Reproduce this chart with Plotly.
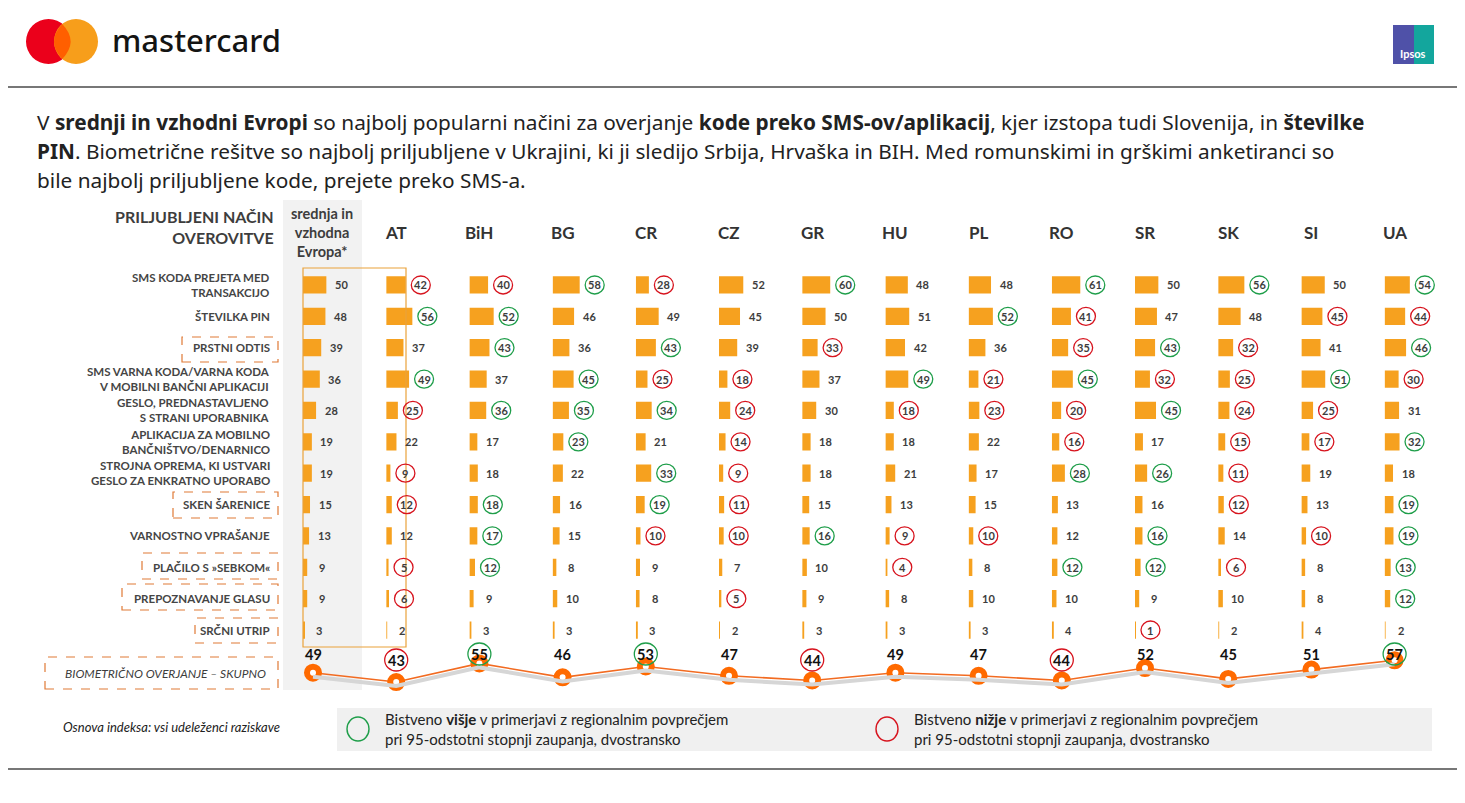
import plotly.graph_objects as go

W, H = 1465, 803
OFF = 8  # the page body adds an 8px margin around the figure
FIG_W, FIG_H = W - OFF, H - OFF

# row labels (top to bottom)
rows = [
    "SMS KODA PREJETA MED<br>TRANSAKCIJO",
    "ŠTEVILKA PIN",
    "PRSTNI ODTIS",
    "SMS VARNA KODA/VARNA KODA<br>V MOBILNI BANČNI APLIKACIJI",
    "GESLO, PREDNASTAVLJENO<br>S STRANI UPORABNIKA",
    "APLIKACIJA ZA MOBILNO<br>BANČNIŠTVO/DENARNICO",
    "STROJNA OPREMA, KI USTVARI<br>GESLO ZA ENKRATNO UPORABO",
    "SKEN ŠARENICE",
    "VARNOSTNO VPRAŠANJE",
    "PLAČILO S »SEBKOM«",
    "PREPOZNAVANJE GLASU",
    "SRČNI UTRIP",
]

countries = ["CEE", "AT", "BiH", "BG", "CR", "CZ", "GR", "HU", "PL", "RO", "SR", "SK", "SI", "UA"]

# values per column, significance: 1 = higher (green), -1 = lower (red)
cee = [50, 48, 39, 36, 28, 19, 19, 15, 13, 9, 9, 3]
at = [42, 56, 37, 49, 25, 22, 9, 12, 12, 5, 6, 2]
at_sig = [-1, 1, 0, 1, -1, 0, -1, -1, 0, -1, -1, 0]
bih = [40, 52, 43, 37, 36, 17, 18, 18, 17, 12, 9, 3]
bih_sig = [-1, 1, 1, 0, 1, 0, 0, 1, 1, 1, 0, 0]
bg = [58, 46, 36, 45, 35, 23, 22, 16, 15, 8, 10, 3]
bg_sig = [1, 0, 0, 1, 1, 1, 0, 0, 0, 0, 0, 0]
cr = [28, 49, 43, 25, 34, 21, 33, 19, 10, 9, 8, 3]
cr_sig = [-1, 0, 1, -1, 1, 0, 1, 1, -1, 0, 0, 0]
cz = [52, 45, 39, 18, 24, 14, 9, 11, 10, 7, 5, 2]
cz_sig = [0, 0, 0, -1, -1, -1, -1, -1, -1, 0, -1, 0]
gr = [60, 50, 33, 37, 30, 18, 18, 15, 16, 10, 9, 3]
gr_sig = [1, 0, -1, 0, 0, 0, 0, 0, 1, 0, 0, 0]
hu = [48, 51, 42, 49, 18, 18, 21, 13, 9, 4, 8, 3]
hu_sig = [0, 0, 0, 1, -1, 0, 0, 0, -1, -1, 0, 0]
pl = [48, 52, 36, 21, 23, 22, 17, 15, 10, 8, 10, 3]
pl_sig = [0, 1, 0, -1, -1, 0, 0, 0, -1, 0, 0, 0]
ro = [61, 41, 35, 45, 20, 16, 28, 13, 12, 12, 10, 4]
ro_sig = [1, -1, -1, 1, -1, -1, 1, 0, 0, 1, 0, 0]
sr = [50, 47, 43, 32, 45, 17, 26, 16, 16, 12, 9, 1]
sr_sig = [0, 0, 1, -1, 1, 0, 1, 0, 1, 1, 0, -1]
sk = [56, 48, 32, 25, 24, 15, 11, 12, 14, 6, 10, 2]
sk_sig = [1, 0, -1, -1, -1, -1, -1, -1, 0, -1, 0, 0]
si = [50, 45, 41, 51, 25, 17, 19, 13, 10, 8, 8, 4]
si_sig = [0, -1, 0, 1, -1, -1, 0, 0, -1, 0, 0, 0]
ua = [54, 44, 46, 30, 31, 32, 18, 19, 19, 13, 12, 2]
ua_sig = [1, -1, 1, -1, 0, 1, 0, 1, 1, 1, 1, 0]

# biometric total (line)
biometric = [49, 43, 55, 46, 53, 47, 44, 49, 47, 44, 52, 45, 51, 57]
bio_sig = [0, -1, 1, 0, 1, 0, -1, 0, 0, -1, 0, 0, 0, 1]

col_vals = [cee, at, bih, bg, cr, cz, gr, hu, pl, ro, sr, sk, si, ua]
col_sig = [[0] * 12, at_sig, bih_sig, bg_sig, cr_sig, cz_sig, gr_sig, hu_sig,
           pl_sig, ro_sig, sr_sig, sk_sig, si_sig, ua_sig]

ORANGE = "#f6a11f"
LINE_OR = "#f26b21"
MARK_OR = "#ff6a00"
GREEN = "#1f9e4a"
RED = "#d7141e"
DARK = "#3d3d3d"
FONT = "Lato, 'Noto Sans', sans-serif"
TITLE_FONT = "'Noto Sans', sans-serif"

COL0, COL_STEP = 313, 83.2
PX_PER_UNIT = 0.467
ROW_TOP, ROW_BOTTOM = 269.3, 645.7


def fx(x):
    return (x - OFF) / FIG_W


def fy(y):
    return 1 - (y - OFF) / FIG_H


def xname(i):
    return "x" if i == 0 else f"x{i + 1}"


fig = go.Figure()
shapes = []
annotations = []
layout_axes = {}

# grey band behind regional average + orange frame
shapes.append(dict(type="rect", xref="paper", yref="paper", x0=fx(283), x1=fx(362),
                   y0=fy(690), y1=fy(200), fillcolor="#f2f2f2", line_width=0, layer="below"))
shapes.append(dict(type="rect", xref="paper", yref="paper", x0=fx(303), x1=fx(406),
                   y0=fy(647), y1=fy(268), line=dict(color="#e9a23b", width=1.2)))

# bar columns
for i, (vals, sig) in enumerate(zip(col_vals, col_sig)):
    left = COL0 + i * COL_STEP - 10
    ax = "xaxis" if i == 0 else f"xaxis{i + 1}"
    layout_axes[ax] = dict(domain=[fx(left), fx(left + 70)], range=[0, 70 / PX_PER_UNIT],
                           anchor="y", visible=False, fixedrange=True)
    fig.add_trace(go.Bar(x=vals, y=list(range(len(rows))), orientation="h",
                         xaxis=xname(i), yaxis="y", width=0.55,
                         marker=dict(color=ORANGE, line_width=0), hoverinfo="x"))
    for r, (v, s) in enumerate(zip(vals, sig)):
        annotations.append(dict(xref=xname(i), yref="y", x=v, y=r, xshift=15, text=str(v),
                                showarrow=False, xanchor="center", yanchor="middle",
                                font=dict(family=FONT, size=11, color=DARK, weight="bold")))
        if s != 0:
            shapes.append(dict(type="circle", xref=xname(i), yref="y", xsizemode="pixel",
                               ysizemode="pixel", xanchor=v, yanchor=r, x0=5.5, x1=24.5,
                               y0=-9, y1=9, line=dict(color=GREEN if s > 0 else RED, width=1.3)))

layout_axes["yaxis"] = dict(domain=[fy(ROW_BOTTOM), fy(ROW_TOP)], range=[len(rows) - 0.5, -0.5],
                            anchor="x", visible=False, fixedrange=True)

# line of biometric total
layout_axes["xaxis15"] = dict(domain=[fx(COL0 - COL_STEP / 2), fx(COL0 + 13.5 * COL_STEP)],
                              type="category", range=[-0.5, 13.5], anchor="y2", visible=False)
layout_axes["yaxis2"] = dict(domain=[fy(700), fy(640)], range=[31.4, 70.1], anchor="x15", visible=False)
layout_axes["yaxis3"] = dict(domain=[fy(704), fy(644)], range=[31.4, 70.1], anchor="x15", visible=False)

fig.add_trace(go.Scatter(x=countries, y=biometric, xaxis="x15", yaxis="y3", mode="lines",
                         line=dict(color="#d6d6d6", width=4), hoverinfo="skip"))
fig.add_trace(go.Scatter(x=countries, y=biometric, xaxis="x15", yaxis="y2", mode="lines+markers",
                         line=dict(color=LINE_OR, width=1.6),
                         marker=dict(size=12, color="white", line=dict(color=MARK_OR, width=6))))

for i, (c, v, s) in enumerate(zip(countries, biometric, bio_sig)):
    ly = 660 if s < 0 else 654
    annotations.append(dict(xref="x15", yref="paper", x=c, y=fy(ly), text=f"<b>{v}</b>",
                            showarrow=False, xanchor="center", yanchor="middle",
                            font=dict(family=FONT, size=14.5, color="#111111")))
    if s != 0:
        shapes.append(dict(type="circle", xref="x15", yref="paper", xsizemode="pixel",
                           ysizemode="pixel", xanchor=i, yanchor=fy(ly), x0=-11.5, x1=11.5,
                           y0=-11, y1=11, line=dict(color=GREEN if s > 0 else RED, width=1.3)))

# column headers
for c in countries[1:]:
    annotations.append(dict(xref="x15", yref="paper", x=c, y=fy(233), text=f"<b>{c}</b>",
                            showarrow=False, xanchor="center", yanchor="middle",
                            font=dict(family=FONT, size=17, color="#333333")))
annotations.append(dict(xref="paper", yref="paper", x=fx(322), y=fy(233),
                        text="<b>srednja in<br>vzhodna<br>Evropa*</b>", showarrow=False,
                        xanchor="center", yanchor="middle", align="center",
                        font=dict(family=FONT, size=14.5, color=DARK)))
annotations.append(dict(xref="paper", yref="paper", x=fx(276), y=fy(227),
                        text="<b>PRILJUBLJENI NAČIN<br>OVEROVITVE</b>", showarrow=False,
                        xanchor="right", yanchor="middle", align="right",
                        font=dict(family=FONT, size=16, color=DARK)))

# row labels
for r, label in enumerate(rows):
    annotations.append(dict(xref="paper", yref="y", x=fx(272), y=r, text=label, showarrow=False,
                            xanchor="right", yanchor="middle", align="right",
                            font=dict(family=FONT, size=11.5, color="#454545", weight="bold")))
annotations.append(dict(xref="paper", yref="paper", x=fx(268), y=fy(673),
                        text="<i>BIOMETRIČNO OVERJANJE – SKUPNO</i>", showarrow=False,
                        xanchor="right", yanchor="middle",
                        font=dict(family=FONT, size=12, color=DARK)))

# dashed boxes around biometric methods
for x0, y0, x1, y1 in [(182, 337, 278, 362), (173, 492, 278, 518), (142, 553, 278, 579),
                       (122, 584, 278, 610), (195, 618, 278, 643), (45, 657, 278, 689)]:
    shapes.append(dict(type="rect", xref="paper", yref="paper", x0=fx(x0), x1=fx(x1),
                       y0=fy(y1), y1=fy(y0), line=dict(color="#e07a36", width=1.2, dash="dash")))

# title text
title_lines = [
    "V <b>srednji in vzhodni Evropi</b> so najbolj popularni načini za overjanje <b>kode preko SMS-ov/aplikacij</b>, kjer izstopa tudi Slovenija, in <b>številke</b>",
    "<b>PIN</b>. Biometrične rešitve so najbolj priljubljene v Ukrajini, ki ji sledijo Srbija, Hrvaška in BIH. Med romunskimi in grškimi anketiranci so",
    "bile najbolj priljubljene kode, prejete preko SMS-a.",
]
for k, t in enumerate(title_lines):
    annotations.append(dict(xref="paper", yref="paper", x=fx(35), y=fy(122 + 29 * k), text=t,
                            showarrow=False, xanchor="left", yanchor="middle",
                            font=dict(family=TITLE_FONT, size=20.8, color="#222222")))

# header logos
shapes.append(dict(type="circle", xref="paper", yref="paper", x0=fx(26), x1=fx(71),
                   y0=fy(64), y1=fy(19), fillcolor="#eb001b", line_width=0))
shapes.append(dict(type="circle", xref="paper", yref="paper", x0=fx(54), x1=fx(98),
                   y0=fy(64), y1=fy(19), fillcolor="#f79e1b", line_width=0))
lens = (f"M {fx(62.2)},{fy(24)} Q {fx(45.8)},{fy(41.5)} {fx(62.2)},{fy(59)} "
        f"Q {fx(79.0)},{fy(41.5)} {fx(62.2)},{fy(24)} Z")
shapes.append(dict(type="path", xref="paper", yref="paper", path=lens,
                   fillcolor="#ff5f00", line_width=0))
annotations.append(dict(xref="paper", yref="paper", x=fx(110), y=fy(40), text="mastercard",
                        showarrow=False, xanchor="left", yanchor="middle",
                        font=dict(family="'Noto Sans', sans-serif", size=31, color="#141413",
                                  weight=500)))
shapes.append(dict(type="rect", xref="paper", yref="paper", x0=fx(1393), x1=fx(1414),
                   y0=fy(64), y1=fy(25), fillcolor="#4f51a8", line_width=0))
shapes.append(dict(type="rect", xref="paper", yref="paper", x0=fx(1414), x1=fx(1434),
                   y0=fy(64), y1=fy(25), fillcolor="#13a69d", line_width=0))
annotations.append(dict(xref="paper", yref="paper", x=fx(1413), y=fy(54), text="<b>Ipsos</b>",
                        showarrow=False, xanchor="center", yanchor="middle",
                        font=dict(family=FONT, size=11, color="white")))

# separator lines
for yy in (87, 769):
    shapes.append(dict(type="line", xref="paper", yref="paper", x0=fx(0), x1=1, y0=fy(yy), y1=fy(yy),
                       line=dict(color="#4a4a4a", width=1.5)))

# footer legend
annotations.append(dict(xref="paper", yref="paper", x=fx(61), y=fy(727),
                        text="<i>Osnova indeksa: vsi udeleženci raziskave</i>", showarrow=False,
                        xanchor="left", yanchor="middle",
                        font=dict(family=FONT, size=13, color="#222222")))
shapes.append(dict(type="rect", xref="paper", yref="paper", x0=fx(337), x1=fx(1432),
                   y0=fy(751), y1=fy(708), fillcolor="#f0f0f0", line_width=0, layer="below"))
legend_items = [(358, GREEN, "višje"), (887, RED, "nižje")]
for cx, col, word in legend_items:
    shapes.append(dict(type="circle", xref="paper", yref="paper", x0=fx(cx - 11), x1=fx(cx + 11),
                       y0=fy(741), y1=fy(717), line=dict(color=col, width=1.4)))
    annotations.append(dict(xref="paper", yref="paper", x=fx(cx + 25), y=fy(729),
                            text=f"Bistveno <b>{word}</b> v primerjavi z regionalnim povprečjem<br>"
                                 "pri 95-odstotni stopnji zaupanja, dvostransko",
                            showarrow=False, xanchor="left", yanchor="middle", align="left",
                            font=dict(family=FONT, size=15, color="#222222")))

fig.update_layout(
    width=FIG_W, height=FIG_H,
    margin=dict(l=0, r=0, t=0, b=0),
    paper_bgcolor="white", plot_bgcolor="rgba(0,0,0,0)",
    showlegend=False, barmode="overlay",
    shapes=shapes, annotations=annotations,
    **layout_axes,
)

fig.write_html("out.html")
